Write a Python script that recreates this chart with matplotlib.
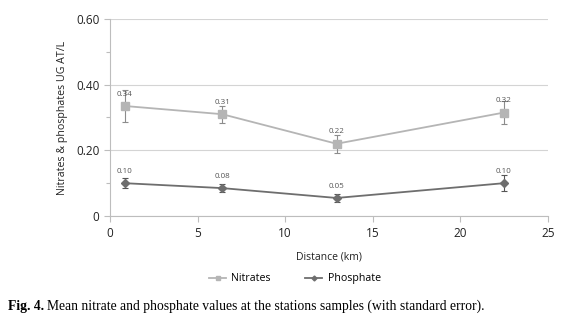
import numpy as np
import matplotlib
matplotlib.use('Agg')
import matplotlib.pyplot as plt
from matplotlib.lines import Line2D
from matplotlib.ticker import FixedLocator, FixedFormatter

# values
distance = [0.84, 6.41, 12.94, 22.5]
nitrates = [0.335, 0.31, 0.22, 0.315]
nitrates_err = [0.05, 0.026, 0.027, 0.036]
nitrates_lbl = ['0.34', '0.31', '0.22', '0.32']
phosphate = [0.10, 0.085, 0.055, 0.10]
phosphate_err = [0.015, 0.011, 0.011, 0.024]
phosphate_lbl = ['0.10', '0.08', '0.05', '0.10']
y_ticks = [0, 0.2, 0.4, 0.6]
y_ticklabels = ['0', '0.20', '0.40', '0.60']

light = '#b5b5b5'
dark = '#6e6e6e'
axcol = '#bdbdbd'

plt.rcParams['font.family'] = ['Open Sans', 'DejaVu Sans']

fig = plt.figure(figsize=(5.67, 3.21), dpi=100)
ax = fig.add_axes([0.194, 0.327, 0.772, 0.614])

ax.errorbar(distance, nitrates, yerr=nitrates_err, color=light, marker='s', ms=6,
            lw=1.3, elinewidth=0.8, ecolor='#8c8c8c', capsize=2, capthick=0.8, zorder=3)
ax.errorbar(distance, phosphate, yerr=phosphate_err, color=dark, marker='D', ms=4,
            lw=1.3, elinewidth=0.8, ecolor='#555555', capsize=2, capthick=0.8, zorder=3)

for x, y, t in zip(distance, nitrates, nitrates_lbl):
    ax.annotate(t, (x, y), xytext=(0, 6), textcoords='offset points', ha='center',
                va='bottom', fontsize=5.8, color='#555555')
for x, y, t in zip(distance, phosphate, phosphate_lbl):
    ax.annotate(t, (x, y), xytext=(0, 6), textcoords='offset points', ha='center',
                va='bottom', fontsize=5.8, color='#555555')

ax.set_xlim(0, 25)
ax.set_ylim(0, 0.6)
ax.set_xticks([0, 5, 10, 15, 20, 25])
ax.yaxis.set_major_locator(FixedLocator(y_ticks))
ax.yaxis.set_major_formatter(FixedFormatter(y_ticklabels))
ax.yaxis.set_minor_locator(FixedLocator([0.1, 0.3, 0.5]))
ax.grid(axis='y', color='#d4d4d4', lw=0.8)
ax.set_axisbelow(True)

for s in ['top', 'right']:
    ax.spines[s].set_visible(False)
for s in ['left', 'bottom']:
    ax.spines[s].set_color(axcol)
    ax.spines[s].set_linewidth(0.8)
ax.tick_params(axis='both', which='both', color=axcol, length=4, width=0.8,
               labelsize=8.5, labelcolor='#222222')
ax.tick_params(axis='y', which='minor', length=3)
ax.tick_params(axis='x', pad=4)

ax.set_xlabel('Distance (km)', fontsize=7.5, color='#222222', labelpad=8)
ax.set_ylabel('Nitrates & phosphates UG AT/L', fontsize=7.7, color='#222222', labelpad=6)

handles = [Line2D([], [], color=light, marker='s', ms=3.5, lw=1.3),
           Line2D([], [], color=dark, marker='D', ms=2.5, lw=1.3)]
ax.legend(handles, ['Nitrates', 'Phosphate'], loc='center', bbox_to_anchor=(0.52, 0.131),
          bbox_transform=fig.transFigure, ncol=2, frameon=False, fontsize=7.7,
          handlelength=1.6, handletextpad=0.5, columnspacing=3.2)

# caption: bold "Fig. 4." followed by plain text
cap = fig.text(0.014, 0.034, 'Fig. 4.', fontsize=9.8, family='Liberation Serif',
               weight='bold', va='baseline')
fig.canvas.draw()
bb = cap.get_window_extent()
x1 = (bb.x1 + 3) / fig.bbox.width
fig.text(x1, 0.034, 'Mean nitrate and phosphate values at the stations samples (with standard error).',
         fontsize=9.8, family='Liberation Serif', va='baseline')

fig.savefig('out.png', dpi=100)
